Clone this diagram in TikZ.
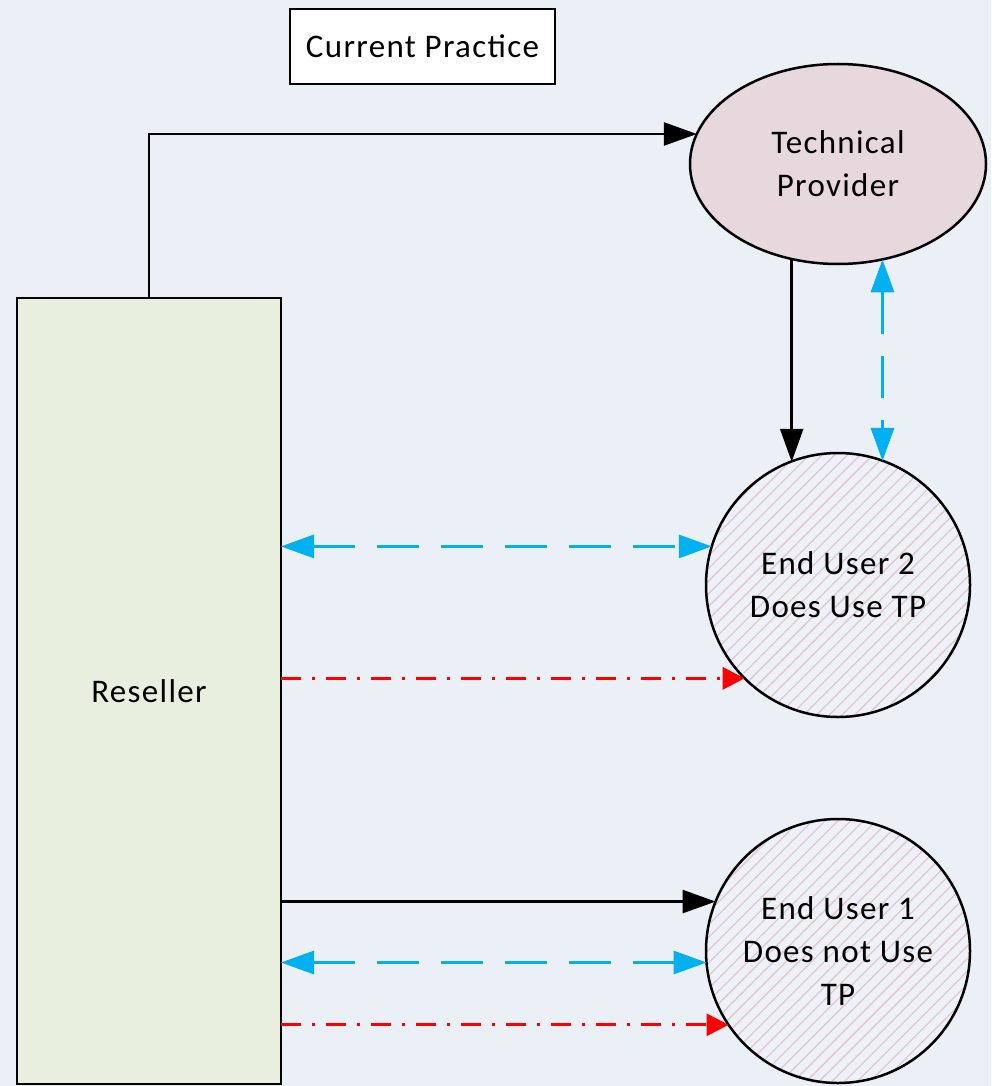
\documentclass[tikz,border=0pt]{standalone}
\usepackage{fontspec}
\setmainfont{Carlito}[LetterSpace=4]
\usetikzlibrary{arrows.meta,patterns.meta,shapes.geometric}
\definecolor{bgc}{HTML}{EBF0F7}
\definecolor{resfill}{HTML}{E8EFDF}
\definecolor{tpfill}{HTML}{E7D8DD}
\definecolor{hatch}{HTML}{E0C9CD}
\definecolor{eufill}{HTML}{EEF1F8}
\definecolor{cyanline}{HTML}{00B0F0}
\tikzset{
  lbl/.style={font=\fontsize{33}{43}\selectfont, align=center, text=black},
  shp/.style={draw=black, line width=2.5pt, inner sep=0pt, outer sep=0pt},
  eu/.style={shp, lbl, circle, minimum size=264pt, preaction={fill=eufill},
    pattern={Lines[angle=45,distance=9pt,line width=1.3pt]}, pattern color=hatch},
  blk/.style={draw=black, line width=2.5pt, -{Triangle[length=33pt,width=23pt]}},
  cy/.style={draw=cyanline, line width=3pt, dash pattern=on 42pt off 22pt,
    {Triangle[length=33pt,width=23pt]}-{Triangle[length=33pt,width=23pt]}},
  rd/.style={draw=red, line width=3pt, dash pattern=on 20pt off 11pt on 3pt off 11pt,
    -{Triangle[length=22pt,width=22pt]}}
}
\begin{document}
\begin{tikzpicture}[x=1pt,y=-1pt]
\fill[bgc] (0,0) rectangle (991,1086);
\useasboundingbox (0,0) rectangle (991,1086);

\node[shp, lbl, fill=white, minimum width=265pt, minimum height=75pt] (title) at (422.5,46.5) {Current Practice};
\node[shp, lbl, fill=resfill, minimum width=264pt, minimum height=786pt] (res) at (149,691) {Reseller};
\node[shp, lbl, ellipse, fill=tpfill, minimum width=296pt, minimum height=200pt] (tp) at (838,164) {Technical\\Provider};
\node[eu] (eu2) at (838,585) {End User 2\\Does Use TP};
\node[eu] (eu1) at (838,951) {End User 1\\Does not Use\\TP};

\draw[blk] (res.north) |- (tp.168);
\draw[blk] (tp.-116.6) -- (tp.-116.6 |- eu2.111.3);
\draw[cy] (tp.-65.3) -- (tp.-65.3 |- eu2.70.5);
\draw[cy] (eu2.163.7 -| res.east) -- (eu2.163.7);
\draw[rd] (eu2.225.4 -| res.east) -- (eu2.225.4);
\draw[blk] (eu1.158.2 -| res.east) -- (eu1.158.2);
\draw[cy] (eu1.185.6 -| res.east) -- (eu1.185.6);
\draw[rd] (eu1.214.1 -| res.east) -- (eu1.214.1);
\end{tikzpicture}
\end{document}
